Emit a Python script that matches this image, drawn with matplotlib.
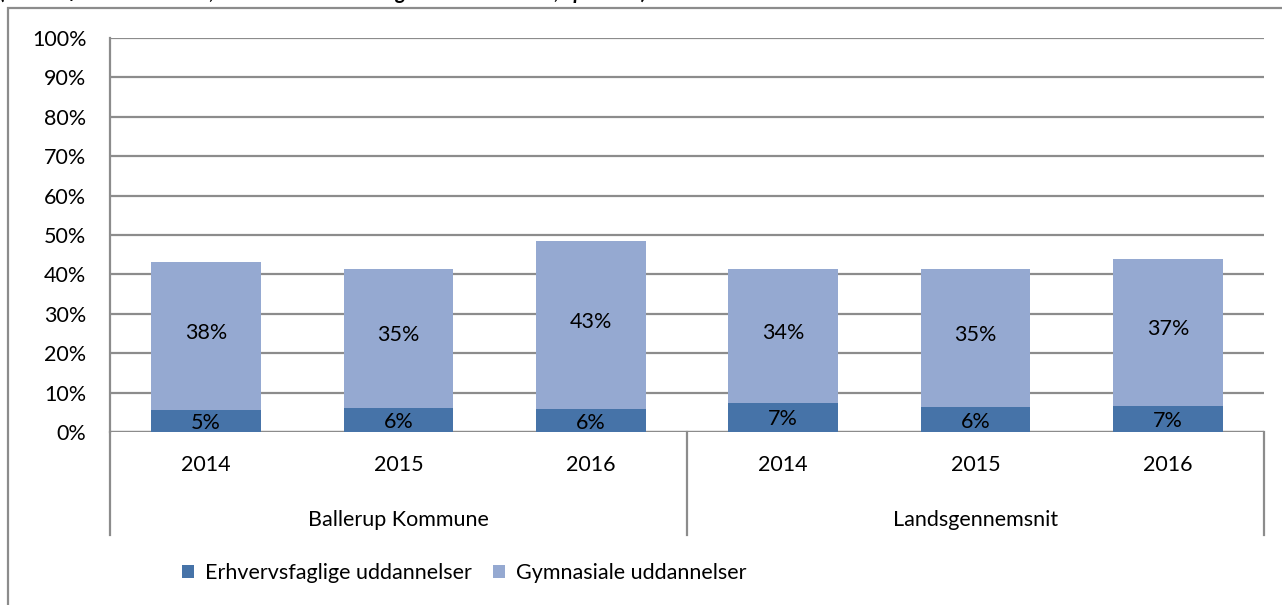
import matplotlib.pyplot as plt
import numpy as np
from matplotlib.patches import Rectangle
from matplotlib.lines import Line2D

plt.rcParams['font.family'] = ['Lato', 'DejaVu Sans']

# Data (share of pupils, %)
groups = ['Ballerup Kommune', 'Landsgennemsnit']
years = ['2014', '2015', '2016']
erhverv = [5.6, 6.1, 5.8, 7.4, 6.3, 6.6]
gymnasial = [37.5, 35.3, 42.7, 34.0, 35.1, 37.3]
erhverv_labels = ['5%', '6%', '6%', '7%', '6%', '7%']
gymnasial_labels = ['38%', '35%', '43%', '34%', '35%', '37%']
series_names = ['Erhvervsfaglige uddannelser', 'Gymnasiale uddannelser']

dark = '#4673A8'
light = '#95A9D1'
grid_col = '#8C8C8C'
fs = 15.5

fig = plt.figure(figsize=(12.82, 6.05), dpi=100)
W, H = 1282, 605
ax = fig.add_axes([110 / W, 1 - 432 / H, (1264 - 110) / W, (432 - 38) / H])

x = np.arange(len(erhverv))
b1 = ax.bar(x, erhverv, width=0.57, color=dark, label=series_names[0], zorder=3)
b2 = ax.bar(x, gymnasial, width=0.57, bottom=erhverv, color=light,
            label=series_names[1], zorder=3)

for i in range(len(x)):
    ax.text(x[i], erhverv[i] / 2 - 0.5, erhverv_labels[i], ha='center', va='center',
            fontsize=fs, color='black', zorder=4)
    ax.text(x[i], erhverv[i] + gymnasial[i] / 2 + 0.8, gymnasial_labels[i], ha='center',
            va='center', fontsize=fs, color='black', zorder=4)

ax.set_xlim(-0.5, len(x) - 0.5)
ax.set_ylim(0, 100)
ax.set_yticks(np.arange(0, 101, 10))
ax.set_yticklabels([f'{v}%' for v in range(0, 101, 10)], fontsize=fs)
ax.tick_params(axis='y', length=0, pad=17)
ax.set_xticks([])
ax.yaxis.grid(True, color=grid_col, linewidth=1.6, zorder=0)
for s in ['top', 'right', 'bottom']:
    ax.spines[s].set_visible(False)
ax.spines['left'].set_color(grid_col)
ax.spines['left'].set_linewidth(1.6)
ax.axhline(0, color=grid_col, linewidth=1.6, zorder=2)

# multi-level category axis
tr = ax.get_xaxis_transform()
y_bottom = -(535 - 432) / (432 - 38)
for xv in [-0.5, 2.5, 5.5]:
    ax.add_line(Line2D([xv, xv], [0, y_bottom], transform=tr, color=grid_col,
                       linewidth=1.6, clip_on=False))
for i in range(len(x)):
    ax.text(x[i], -(465 - 432) / 394, years[i % 3], transform=tr, ha='center',
            va='center', fontsize=fs)
for g, name in enumerate(groups):
    ax.text(g * 3 + 1, -(520 - 432) / 394, name, transform=tr, ha='center',
            va='center', fontsize=fs)

# legend
fig.legend(handles=[b1, b2], labels=series_names, loc='center',
           bbox_to_anchor=(464 / W, 1 - 573 / H), ncol=2, frameon=False, fontsize=fs,
           handlelength=0.55, handleheight=0.55, columnspacing=1.0, handletextpad=0.5)

# outer chart-area border (clipped at right and bottom)
fig.patches.append(Rectangle((8 / W, -0.05), 1.1, 1 - 8 / H + 0.05, transform=fig.transFigure,
                             fill=False, edgecolor=grid_col, linewidth=1.6))

# title line, mostly cut off at the top (as in the reference)
fig.text(0.5 / W, 1 + 1 / H,
         '(andel af 9. klasseelever, der er tilmeldt en ungdomsuddannelse, i procent)',
         ha='left', va='baseline', fontsize=15, fontweight='bold', fontstyle='italic')

fig.savefig('out.png', dpi=100)
